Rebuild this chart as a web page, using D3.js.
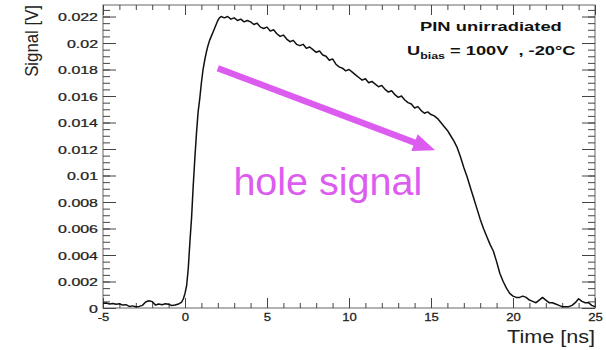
<!DOCTYPE html>
<html>
<head>
<meta charset="utf-8">
<script src="https://cdn.jsdelivr.net/npm/d3@7"></script>
<style>
  html, body { margin: 0; padding: 0; background: #fff; }
  svg { display: block; }
  text { font-family: "Liberation Sans", Arial, Helvetica, sans-serif; }
</style>
</head>
<body>
<svg id="chart" width="606" height="350"></svg>
<script>
// ---------------- data ----------------
const times = [
  -5.0, -4.8, -4.6, -4.4, -4.2, -4.0, -3.8, -3.6, -3.4, -3.2, -3.0, -2.8, -2.6, -2.4, -2.2, -2.0,
  -1.8, -1.6, -1.4, -1.2, -1.0, -0.8, -0.6, -0.4, -0.2, -0.1, 0.0, 0.1, 0.2, 0.3, 0.4, 0.5,
  0.6, 0.7, 0.8, 0.9, 1.0, 1.1, 1.2, 1.3, 1.4, 1.5, 1.6, 1.7, 1.8, 1.9, 2.0, 2.1, 2.2, 2.4,
  2.6, 2.8, 3.0, 3.2, 3.4, 3.6, 3.8, 4.0, 4.2, 4.4, 4.6, 4.8, 5.0, 5.2, 5.4, 5.6, 5.8, 6.0,
  6.2, 6.4, 6.6, 6.8, 7.0, 7.2, 7.4, 7.6, 7.8, 8.0, 8.2, 8.4, 8.6, 8.8, 9.0, 9.2, 9.4, 9.6,
  9.8, 10.0, 10.2, 10.4, 10.6, 10.8, 11.0, 11.2, 11.4, 11.6, 11.8, 12.0, 12.2, 12.4, 12.6, 12.8,
  13.0, 13.2, 13.4, 13.6, 13.8, 14.0, 14.2, 14.4, 14.6, 14.8, 15.0, 15.2, 15.4, 15.6, 15.8, 16.0,
  16.2, 16.4, 16.6, 16.8, 17.0, 17.2, 17.4, 17.6, 17.8, 18.0, 18.2, 18.4, 18.6, 18.8, 19.0, 19.2,
  19.4, 19.6, 19.8, 20.0, 20.2, 20.4, 20.6, 20.8, 21.0, 21.2, 21.4, 21.6, 21.8, 22.0, 22.2, 22.4,
  22.6, 22.8, 23.0, 23.2, 23.4, 23.6, 23.8, 24.0, 24.2, 24.4, 24.6, 24.8, 25.0
];
const signal = [
  0.00035, 0.00038, 0.00030, 0.00034, 0.00028, 0.00032, 0.00022, 0.00025, 0.00012, 0.00016, 0.00010, 0.00012, 0.00020, 0.00045, 0.00055, 0.00048,
  0.00022, 0.00030, 0.00025, 0.00032, 0.00028, 0.00018, 0.00022, 0.00030, 0.00045, 0.00070, 0.00110, 0.00170, 0.0030, 0.0050, 0.0068, 0.0092,
  0.0113, 0.0132, 0.0148, 0.0158, 0.0170, 0.0180, 0.0187, 0.0193, 0.0198, 0.0202, 0.0205, 0.0208, 0.0211, 0.0214, 0.0217, 0.0219, 0.0220, 0.0219,
  0.0220, 0.0218, 0.0219, 0.0217, 0.0218, 0.0216, 0.0217, 0.0216, 0.0214, 0.0215, 0.0212, 0.0211, 0.0212, 0.0209, 0.0210, 0.0207, 0.0205, 0.0206,
  0.0203, 0.0201, 0.0202, 0.0199, 0.0198, 0.0199, 0.0196, 0.0197, 0.0195, 0.0193, 0.0194, 0.0191, 0.0190, 0.0187, 0.0188, 0.0184, 0.0182, 0.0181,
  0.0179, 0.0180, 0.0178, 0.0176, 0.0174, 0.0172, 0.0173, 0.0170, 0.0171, 0.0169, 0.0167, 0.0168, 0.0165, 0.0163, 0.0164, 0.0161,
  0.0159, 0.0160, 0.0157, 0.0155, 0.0154, 0.0151, 0.0152, 0.0149, 0.0147, 0.0148, 0.0146, 0.0145, 0.0143, 0.0140, 0.0137, 0.0134,
  0.0130, 0.0126, 0.0121, 0.0114, 0.0106, 0.0099, 0.0091, 0.0083, 0.0075, 0.0067, 0.0060, 0.0054, 0.0048, 0.0043, 0.0035, 0.0026,
  0.0020, 0.0015, 0.0011, 0.0009, 0.0008, 0.0008, 0.0009, 0.0008, 0.0006, 0.0005, 0.0004, 0.0006, 0.0008, 0.0006, 0.0004, 0.0004,
  0.0003, 0.0002, 0.0001, 0.0001, 0.0001, 0.0002, 0.0004, 0.0007, 0.0005, 0.0004, 0.0004, 0.0002, 0.0001
];
const xTicks = [-5, 0, 5, 10, 15, 20, 25];
const xTickLabels = ["-5", "0", "5", "10", "15", "20", "25"];
const yTicks = [0, 0.002, 0.004, 0.006, 0.008, 0.010, 0.012, 0.014, 0.016, 0.018, 0.020, 0.022];
const yTickLabels = ["0", "0.002", "0.004", "0.006", "0.008", "0.01", "0.012", "0.014", "0.016", "0.018", "0.02", "0.022"];
const xMinorTicks = d3.range(-5, 25.001, 1);
const yMinorTicks = d3.range(0, 0.02251, 0.0005);
const xDomain = [-5, 25];
const yDomain = [0, 0.02287];
const xTitle = "Time [ns]";
const yTitle = "Signal [V]";
const infoLine1 = "PIN unirradiated";
const arrowFrom = [2.0, 0.0181];
const arrowTo = [15.25, 0.0119];
const annotText = "hole signal";
const annotPos = [2.95, 0.0085];

// ---------------- layout ----------------
const L = 103, R = 595, T = 5, B = 308;
const svg = d3.select("#chart");
const x = d3.scaleLinear().domain(xDomain).range([L, R]);
const y = d3.scaleLinear().domain(yDomain).range([B, T]);
const axisColor = "#444";
const magenta = "#dd5cf0";

// frame
svg.append("rect").attr("x", L).attr("y", T).attr("width", R - L).attr("height", B - T)
  .attr("fill", "none").attr("stroke", "#666").attr("stroke-width", 1);

function styleAxis(g) {
  g.select(".domain").remove();
  g.selectAll("line").attr("stroke", axisColor).attr("stroke-width", 1);
}

// minor ticks
svg.append("g").attr("transform", `translate(${L},0)`)
  .call(d3.axisLeft(y).tickValues(yMinorTicks).tickSize(-7).tickFormat("")).call(styleAxis);
svg.append("g").attr("transform", `translate(${R},0)`)
  .call(d3.axisRight(y).tickValues(yMinorTicks).tickSize(-7).tickFormat("")).call(styleAxis);
svg.append("g").attr("transform", `translate(0,${B})`)
  .call(d3.axisBottom(x).tickValues(xMinorTicks).tickSize(-5).tickFormat("")).call(styleAxis);
svg.append("g").attr("transform", `translate(0,${T})`)
  .call(d3.axisTop(x).tickValues(xMinorTicks).tickSize(-5).tickFormat("")).call(styleAxis);

// major ticks
const yAxisG = svg.append("g").attr("transform", `translate(${L},0)`)
  .call(d3.axisLeft(y).tickValues(yTicks).tickSize(-13).tickFormat((d, i) => yTickLabels[i]))
  .call(styleAxis);
yAxisG.selectAll("text")
  .attr("x", null).attr("dy", null)
  .attr("transform", "translate(-5,4) scale(1.45,1)")
  .attr("font-size", 11).attr("fill", "#222").attr("text-anchor", "end")
  .attr("stroke", "#222").attr("stroke-width", 0.25);

svg.append("g").attr("transform", `translate(${R},0)`)
  .call(d3.axisRight(y).tickValues(yTicks).tickSize(-13).tickFormat("")).call(styleAxis);

const xAxisG = svg.append("g").attr("transform", `translate(0,${B})`)
  .call(d3.axisBottom(x).tickValues(xTicks).tickSize(-10).tickFormat((d, i) => xTickLabels[i]))
  .call(styleAxis);
xAxisG.selectAll("text")
  .attr("y", null).attr("dy", null)
  .attr("transform", "translate(0,13) scale(1.25,1)")
  .attr("font-size", 10.5).attr("fill", "#222").attr("text-anchor", "middle")
  .attr("stroke", "#222").attr("stroke-width", 0.25);

svg.append("g").attr("transform", `translate(0,${T})`)
  .call(d3.axisTop(x).tickValues(xTicks).tickSize(-10).tickFormat("")).call(styleAxis);

// curve
const pts = times.map((t, i) => [t, signal[i]]);
svg.append("path").datum(pts)
  .attr("fill", "none").attr("stroke", "#111").attr("stroke-width", 1.5)
  .attr("stroke-linejoin", "round")
  .attr("d", d3.line().x(d => x(d[0])).y(d => y(d[1])));

// axis titles
svg.append("text").text(xTitle)
  .attr("transform", `translate(${R},343) scale(1.2,1)`)
  .attr("text-anchor", "end").attr("font-size", 18).attr("fill", "#222");
svg.append("text").text(yTitle)
  .attr("transform", `translate(38,${T}) rotate(-90) scale(1.05,1.1)`)
  .attr("text-anchor", "end").attr("font-size", 16).attr("fill", "#222");

// info text
svg.append("text").text(infoLine1)
  .attr("transform", "translate(420,31) scale(1.47,1)")
  .attr("font-size", 12.5).attr("font-weight", "bold").attr("fill", "#111");
const u = svg.append("text")
  .attr("transform", "translate(407,55) scale(1.46,1)")
  .attr("font-size", 12.5).attr("font-weight", "bold").attr("fill", "#111")
  .style("white-space", "pre");
u.append("tspan").text("U");
u.append("tspan").text("bias").attr("font-size", 8.5).attr("dy", 3.5);
u.append("tspan").text(" = 100V  , -20°C").attr("dy", -3.5);

// annotation arrow
const x0 = x(arrowFrom[0]), y0 = y(arrowFrom[1]);
const x1 = x(arrowTo[0]), y1 = y(arrowTo[1]);
const ang = Math.atan2(y1 - y0, x1 - x0);
const headLen = 22, headHalf = 9;
const ux = Math.cos(ang), uy = Math.sin(ang);
const bx = x1 - ux * headLen, by = y1 - uy * headLen;
svg.append("line")
  .attr("x1", x0).attr("y1", y0).attr("x2", bx + ux * 2).attr("y2", by + uy * 2)
  .attr("stroke", magenta).attr("stroke-width", 6.5);
svg.append("path")
  .attr("d", `M${x1},${y1} L${bx - uy * headHalf},${by + ux * headHalf} L${bx + uy * headHalf},${by - ux * headHalf} Z`)
  .attr("fill", magenta);

svg.append("text").text(annotText)
  .attr("transform", `translate(${x(annotPos[0])},${y(annotPos[1])}) scale(1.04,1)`)
  .attr("font-size", 38).attr("fill", magenta);
</script>
</body>
</html>
